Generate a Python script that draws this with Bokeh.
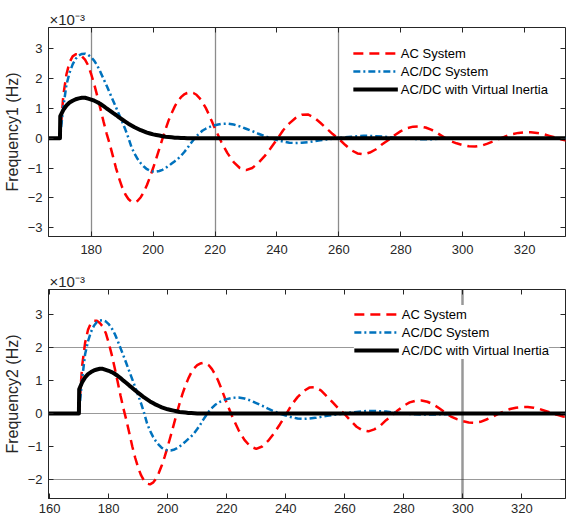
from bokeh.plotting import figure
from bokeh.models import Range1d, FixedTicker, Legend, LegendItem, ColumnDataSource, LinearAxis
from bokeh.layouts import column
from bokeh.embed import file_html
from bokeh.resources import INLINE

# ---- data (frequency deviation, units of 1e-3 Hz) ----
time = [159, 169.9,
        170, 171, 172, 173, 174, 175, 176, 177, 178, 179,
        180, 181, 182, 183, 184, 185, 186, 187, 188, 189,
        190, 191, 192, 193, 194, 195, 196, 197, 198, 199,
        200, 201, 202, 203, 204, 205, 206, 207, 208, 209,
        210, 211, 212, 213, 214, 215, 216, 217, 218, 219,
        220, 221, 222,
        224, 226, 228, 230, 232, 234, 236, 238, 240, 242,
        244, 246, 248, 250, 252, 254, 256, 258, 260, 262,
        264, 266, 268, 270, 272, 274, 276, 278, 280, 282,
        284, 286, 288, 290, 292, 294, 296, 298, 300, 302,
        304, 306, 308, 310, 312, 314, 316, 318, 320, 322,
        324, 326, 328, 330, 332, 334, 336]

ac_system = [0.0, 0.0,
             0.15, 1.45, 2.15, 2.55, 2.75, 2.82, 2.82, 2.75, 2.64, 2.45,
             2.15, 1.80, 1.40, 0.98, 0.55, 0.15, -0.20, -0.60, -1.00, -1.35,
             -1.65, -1.88, -2.04, -2.13, -2.15, -2.10, -1.98, -1.80, -1.57, -1.30,
             -1.00, -0.68, -0.35, -0.02, 0.30, 0.60, 0.85, 1.07, 1.25, 1.38,
             1.47, 1.52, 1.54, 1.52, 1.46, 1.35, 1.20, 1.02, 0.80, 0.56,
             0.32, 0.10, -0.12,
             -0.50, -0.80, -1.00, -1.07, -1.00, -0.83, -0.60, -0.33, -0.04, 0.27,
             0.50, 0.68, 0.79, 0.80, 0.70, 0.52, 0.33, 0.14, -0.02, -0.22,
             -0.40, -0.51, -0.54, -0.48, -0.37, -0.20, -0.06, 0.10, 0.24, 0.34,
             0.39, 0.40, 0.36, 0.28, 0.16, 0.03, -0.09, -0.17, -0.23, -0.27,
             -0.28, -0.25, -0.18, -0.10, -0.01, 0.07, 0.14, 0.18, 0.20, 0.20,
             0.18, 0.14, 0.08, 0.02, -0.04, -0.09, -0.12]

acdc_system = [0.0, 0.0,
               0.10, 1.05, 1.80, 2.20, 2.48, 2.67, 2.78, 2.83, 2.84, 2.80,
               2.72, 2.60, 2.43, 2.22, 1.99, 1.76, 1.52, 1.28, 1.04, 0.80,
               0.55, 0.30, 0.02, -0.30, -0.52, -0.70, -0.84, -0.95, -1.04, -1.09,
               -1.12, -1.12, -1.10, -1.06, -1.00, -0.93, -0.85, -0.77, -0.69, -0.59,
               -0.47, -0.34, -0.19, -0.06, 0.07, 0.17, 0.26, 0.32, 0.37, 0.41,
               0.44, 0.46, 0.48,
               0.49, 0.46, 0.40, 0.32, 0.24, 0.15, 0.07, 0.00, -0.06, -0.11,
               -0.15, -0.16, -0.15, -0.13, -0.10, -0.07, -0.04, -0.02, 0.01, 0.03,
               0.05, 0.07, 0.08, 0.08, 0.07, 0.06, 0.04, 0.02, 0.00, -0.01,
               -0.02, -0.03, -0.03, -0.03, -0.02, -0.02, -0.01, 0.00, 0.00, 0.00,
               0.00, 0.00, 0.00, 0.00, 0.00, 0.00, 0.00, 0.00, 0.00, 0.00,
               0.00, 0.00, 0.00, 0.00, 0.00, 0.00, 0.00]

acdc_virtual_inertia = [0.0, 0.0,
                        0.74, 0.95, 1.10, 1.20, 1.26, 1.31, 1.34, 1.36, 1.36, 1.33,
                        1.30, 1.26, 1.21, 1.15, 1.08, 1.00, 0.93, 0.85, 0.78, 0.70,
                        0.63, 0.56, 0.49, 0.43, 0.37, 0.32, 0.27, 0.23, 0.19, 0.16,
                        0.13, 0.11, 0.09, 0.07, 0.05, 0.04, 0.03, 0.02, 0.015, 0.01,
                        0.005, 0.0, 0.0, 0.0, 0.0, 0.0, 0.0, 0.0, 0.0, 0.0,
                        0.0, 0.0, 0.0,
                        0.0, 0.0, 0.0, 0.0, 0.0, 0.0, 0.0, 0.0, 0.0, 0.0,
                        0.0, 0.0, 0.0, 0.0, 0.0, 0.0, 0.0, 0.0, 0.0, 0.0,
                        0.0, 0.0, 0.0, 0.0, 0.0, 0.0, 0.0, 0.0, 0.0, 0.0,
                        0.0, 0.0, 0.0, 0.0, 0.0, 0.0, 0.0, 0.0, 0.0, 0.0,
                        0.0, 0.0, 0.0, 0.0, 0.0, 0.0, 0.0, 0.0, 0.0, 0.0,
                        0.0, 0.0, 0.0, 0.0, 0.0, 0.0, 0.0]

series_names = ["AC System", "AC/DC System", "AC/DC with Virtual Inertia"]
exponent_text = "×10⁻³"

top_x_ticks = [180, 200, 220, 240, 260, 280, 300, 320]
top_y_ticks = [-3, -2, -1, 0, 1, 2, 3]
bottom_x_ticks = [160, 180, 200, 220, 240, 260, 280, 300, 320]
bottom_y_ticks = [-2, -1, 0, 1, 2, 3]
top_vlines = [180, 220, 260]
bottom_vlines = [300]
bottom_hlines = [-2, 0, 2]

# ---- styling ----
FONT = "Liberation Sans"
AX = "#262626"
src = ColumnDataSource(dict(t=time, ac=ac_system, acdc=acdc_system, vi=acdc_virtual_inertia))


def make_fig(height, xr, yr, xticks, yticks, ylabel, top_border, bottom_border, x_standoff, leg_margin):
    p = figure(width=566, height=height, x_range=Range1d(*xr), y_range=Range1d(*yr),
               output_backend="svg", toolbar_location=None,
               min_border_left=40, min_border_right=1,
               min_border_top=top_border, min_border_bottom=bottom_border)
    p.outline_line_color = AX
    p.outline_line_width = 1
    p.background_fill_color = "white"
    p.border_fill_color = "white"

    # exponent marker of the y axis, as the figure's title
    p.title.text = exponent_text
    p.title.align = "left"
    p.title.offset = 1
    p.title.standoff = 0
    p.title.text_font = FONT
    p.title.text_font_size = "15px"
    p.title.text_font_style = "normal"
    p.title.text_color = AX

    for ax in (p.xaxis[0], p.yaxis[0]):
        ax.major_tick_in = 5
        ax.major_tick_out = 0
        ax.minor_tick_line_color = None
        ax.axis_line_color = AX
        ax.major_tick_line_color = AX
        ax.major_label_text_font = FONT
        ax.major_label_text_font_size = "13px"
        ax.major_label_text_color = AX
    p.xaxis[0].ticker = FixedTicker(ticks=xticks)
    p.yaxis[0].ticker = FixedTicker(ticks=yticks)
    p.xaxis[0].major_label_standoff = x_standoff
    p.yaxis[0].major_label_standoff = 6
    p.yaxis[0].axis_label = ylabel
    p.yaxis[0].axis_label_text_font = FONT
    p.yaxis[0].axis_label_text_font_size = "16px"
    p.yaxis[0].axis_label_text_font_style = "normal"
    p.yaxis[0].axis_label_text_color = AX
    p.yaxis[0].axis_label_standoff = 4

    # tick marks on the top and right edges of the box (no labels)
    for loc, ticks in (("right", yticks), ("above", xticks)):
        a = LinearAxis(ticker=FixedTicker(ticks=ticks))
        a.major_label_overrides = {t: "" for t in ticks}
        a.major_label_text_color = None
        a.major_label_text_font_size = "1px"
        a.major_label_standoff = 0
        a.major_tick_in = 5
        a.major_tick_out = 0
        a.minor_tick_line_color = None
        a.axis_line_color = None
        a.major_tick_line_color = AX
        p.add_layout(a, loc)

    r1 = p.line("t", "ac", source=src, line_color="#FF0000", line_width=2.5, line_dash="10 6")
    r2 = p.line("t", "acdc", source=src, line_color="#0072BD", line_width=2.5, line_dash="7 3 2 3")
    r3 = p.line("t", "vi", source=src, line_color="black", line_width=4, line_join="round")

    legend = Legend(items=[LegendItem(label=series_names[0], renderers=[r1]),
                           LegendItem(label=series_names[1], renderers=[r2]),
                           LegendItem(label=series_names[2], renderers=[r3])],
                    location="top_right", border_line_color=None,
                    background_fill_color="white", background_fill_alpha=1.0,
                    label_text_font=FONT, label_text_font_size="13px", label_text_color="black",
                    glyph_width=45, glyph_height=18, label_height=18, spacing=0,
                    padding=0, margin=leg_margin, label_standoff=3)
    p.add_layout(legend)
    return p


p1 = make_fig(259, (166.2, 333.2), (-3.3, 3.72), top_x_ticks, top_y_ticks,
              "Frequency1 (Hz)", 27, 23, 8, 17)
p1.ygrid.visible = False
p1.xgrid.ticker = FixedTicker(ticks=top_vlines)
p1.xgrid.grid_line_color = "#1a1a1a"
p1.xgrid.grid_line_width = 1.3
p1.xgrid.grid_line_dash = "1 1"
p1.xgrid.grid_line_alpha = 1.0

p2 = make_fig(259, (159.6, 334.8), (-2.58, 3.77), bottom_x_ticks, bottom_y_ticks,
              "Frequency2 (Hz)", 30, 20, 5, 16)
p2.xgrid.ticker = FixedTicker(ticks=bottom_vlines)
p2.xgrid.grid_line_color = "#333333"
p2.xgrid.grid_line_width = 2.5
p2.xgrid.grid_line_dash = "1 1"
p2.xgrid.grid_line_alpha = 1.0
p2.ygrid.ticker = FixedTicker(ticks=bottom_hlines)
p2.ygrid.grid_line_color = "#333333"
p2.ygrid.grid_line_width = 1
p2.ygrid.grid_line_dash = "1 1"
p2.ygrid.grid_line_alpha = 1.0

layout = column(p1, p2, spacing=0)
open("out.html", "w").write(file_html(layout, INLINE))
